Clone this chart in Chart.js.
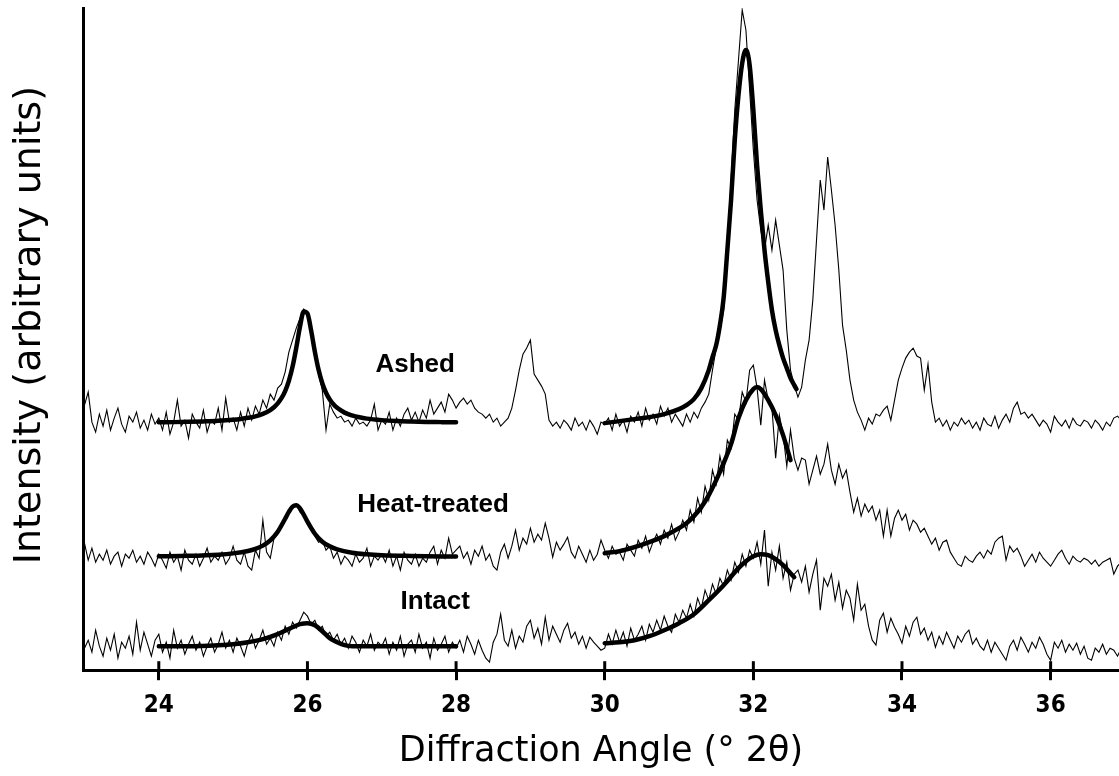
<!DOCTYPE html>
<html><head><meta charset="utf-8">
<script src="https://cdn.jsdelivr.net/npm/chart.js@4.4.0/dist/chart.umd.min.js"></script>
<style>html,body{margin:0;padding:0;background:#fff;} canvas{display:block;}</style>
</head><body>
<canvas id="c" width="1119" height="776"></canvas>
<script>
// sampling grid of the recorded traces (degrees 2θ)
const angleStart = 23.0;
const angleStep = 0.05;

// raw diffraction traces (arbitrary intensity units), one value per 0.05°
const ashedRaw = [
265,278,248,238,256,244,260,240,252,262,246,238,254,248,258,242,250,240,256,246,
252,240,258,236,248,270,244,250,232,256,248,242,260,238,250,246,262,240,272,248,
252,240,258,244,262,250,264,256,270,262,276,270,282,286,298,318,330,342,352,361,
356,340,318,296,280,240,266,258,252,254,248,250,244,252,246,248,244,250,266,240,
250,246,258,240,252,244,256,262,250,258,248,260,252,270,256,262,268,258,276,270,
262,268,272,266,270,262,258,256,252,256,248,252,244,248,252,262,280,300,316,322,
330,296,290,284,276,250,244,248,242,250,246,240,252,244,248,240,250,244,236,248,
246,252,240,256,244,250,238,254,248,258,244,262,250,256,246,264,254,262,248,256,
250,244,256,248,258,252,262,268,276,300,322,340,360,420,490,560,610,660,640,580,
520,470,440,420,445,420,450,425,400,340,300,285,273,283,310,330,370,430,490,460,
513,480,445,400,345,320,290,270,258,250,240,252,246,256,254,260,264,250,270,290,
302,312,318,322,314,312,280,306,268,248,252,244,250,240,248,244,252,246,250,242,
248,240,252,246,244,254,242,250,256,248,262,268,256,258,252,256,250,244,250,246,
238,254,248,244,250,242,252,246,244,250,248,242,250,246,240,248,244,252,254,250];

const heatRaw = [
127,110,122,108,116,110,120,106,114,118,104,116,112,120,108,114,106,118,112,104,
116,110,102,118,108,114,100,120,110,106,116,104,112,122,108,114,110,118,106,112,
124,110,106,118,104,100,120,112,150,118,112,132,136,146,152,160,165,166,158,154,
146,142,134,128,130,120,124,112,118,106,114,110,104,116,108,112,122,104,114,110,
116,108,120,104,114,100,118,110,106,116,104,112,108,118,124,106,120,112,132,116,
120,124,112,118,106,120,114,124,110,116,104,100,118,126,112,124,140,120,132,126,
142,128,136,130,147,132,113,128,120,126,133,118,112,124,116,108,120,110,116,130,
120,112,124,116,118,110,126,120,114,130,122,134,118,128,136,126,140,132,146,130,
138,150,140,160,148,172,158,184,170,200,186,214,196,230,222,256,250,278,268,300,
305,282,245,290,270,262,212,255,236,204,240,212,200,212,210,186,200,214,196,206,
226,200,186,206,192,200,178,158,172,154,166,158,164,150,160,134,160,134,152,160,
150,156,140,150,146,138,142,134,126,132,120,128,130,118,112,106,104,114,110,108,
114,118,112,120,116,128,132,134,110,124,118,122,114,104,110,116,108,118,112,108,
104,110,116,120,112,106,114,110,108,112,110,106,110,104,108,110,112,96,104,108];

const intactRaw = [
22,30,18,40,24,14,32,20,36,12,28,22,34,16,48,20,38,26,14,30,
36,18,28,12,40,22,30,16,26,34,20,28,14,24,32,18,26,38,22,30,
18,32,24,14,28,36,22,30,40,26,32,24,38,30,44,36,48,42,50,58,
54,46,50,40,44,34,38,30,36,26,32,22,34,28,18,30,24,36,20,28,
24,32,16,28,20,34,14,26,30,18,36,22,28,12,32,20,26,34,18,28,
22,30,18,34,26,16,30,20,12,8,28,36,56,30,24,40,22,34,28,44,
50,32,42,26,53,30,44,36,28,40,47,32,38,26,34,22,33,28,24,20,
22,36,26,40,28,38,24,42,30,36,44,30,46,38,50,40,54,44,38,56,
48,60,52,66,54,72,62,80,70,86,76,92,84,100,90,108,98,116,104,120,
112,128,106,140,84,118,100,124,92,108,80,96,100,88,104,78,96,110,60,92,
84,96,70,88,62,80,72,50,86,60,66,44,30,25,50,57,38,52,43,36,
27,44,34,48,53,36,42,30,38,23,34,26,38,30,22,34,28,36,40,26,
32,24,20,30,18,28,22,16,10,24,30,20,33,26,18,28,22,33,26,16,
10,28,22,30,18,26,20,27,16,24,12,10,22,18,26,16,22,20,14,22];

// fitted peak profiles
const ashedFit1Angle = [24.0,24.2,24.4,24.6,24.8,25.0,25.1,25.2,25.3,25.4,25.5,25.55,25.6,25.65,25.7,25.75,25.8,25.85,25.9,25.95,26.0,26.05,26.1,26.15,26.2,26.25,26.3,26.35,26.4,26.5,26.6,26.7,26.8,27.0,27.2,27.4,27.6,27.8,28.0];
const ashedFit1Value = [247.8,248.0,248.3,248.7,249.3,250.4,251.2,252.3,253.8,256.2,260.1,262.9,266.7,271.9,279.1,289.3,303.5,322.4,343.6,358.5,356.6,339.5,318.3,300.3,286.9,277.4,270.7,265.8,262.3,257.5,254.7,252.8,251.5,250.0,249.1,248.6,248.2,248.0,247.8];
const ashedFit2Angle = [30.0,30.2,30.4,30.6,30.8,31.0,31.1,31.2,31.3,31.4,31.45,31.5,31.55,31.6,31.65,31.7,31.75,31.8,31.85,31.9,31.95,32.0,32.05,32.1,32.15,32.2,32.25,32.3,32.35,32.4,32.45,32.5,32.55,32.58];
const ashedFit2Value = [247,249,251,253,256,261,265,271,282,300,313,325,345,372,420,470,530,575,607,620,605,560,505,460,420,388,360,340,325,312,302,292,285,281];
const heatFit1Angle = [24.0,24.4,24.8,25.0,25.2,25.3,25.4,25.5,25.6,25.7,25.75,25.8,25.85,25.9,25.95,26.0,26.1,26.2,26.3,26.4,26.6,26.8,27.0,27.4,27.8,28.0];
const heatFit1Value = [113.8,114.3,115.5,116.8,119.2,121.3,124.5,129.8,138.4,151.4,158.3,163.5,164.9,161.8,155.6,148.5,136.4,128.5,123.8,120.8,117.5,115.9,115.0,114.2,113.7,113.6];
const heatFit2Angle = [30.0,30.2,30.4,30.6,30.8,31.0,31.1,31.2,31.3,31.4,31.5,31.6,31.7,31.8,31.9,32.0,32.05,32.1,32.2,32.3,32.4,32.5];
const heatFit2Value = [117,119,123,128,134,142,147,154,163,175,190,207,226,252,270,281,283,281,270,255,235,210];
const intactFit1Angle = [24.0,24.4,24.8,25.0,25.2,25.4,25.6,25.8,25.9,26.0,26.1,26.2,26.3,26.4,26.5,26.6,26.8,27.0,27.4,27.8,28.0];
const intactFit1Value = [24,24,25,26,28,31,36,43,46,47,45,39,32,28,25,24,24,24,24,24,24];
const intactFit2Angle = [30.0,30.2,30.4,30.6,30.8,31.0,31.2,31.4,31.6,31.8,31.9,32.0,32.1,32.2,32.3,32.4,32.5,32.55];
const intactFit2Value = [27,28,30,34,40,47,56,70,85,102,109,114,116,115,111,105,97,93];

// axis ticks and trace labels
const xTickValues = [24,26,28,30,32,34,36];
const traceNames = ['Ashed','Heat-treated','Intact'];
const traceNameAngle = [27.45,27.69,27.72];
const traceNameValue = [305,165,68];
const yAxisTitle = 'Intensity (arbitrary units)';

function rawPoints(arr){ return arr.map((v,i)=>({x:+(angleStart+i*angleStep).toFixed(2), y:v})); }
function pairPoints(a,v){ return a.map((x,i)=>({x:x, y:v[i]})); }

const rawStyle = {borderColor:'#000', borderWidth:1.1, pointRadius:0, tension:0, fill:false, order:2};
const fitStyle = {borderColor:'#000', borderWidth:4.5, pointRadius:0, cubicInterpolationMode:'monotone', fill:false, order:1, borderCapStyle:'round', borderJoinStyle:'round'};

const decor = {
  id:'decor',
  afterDraw(chart){
    const {ctx, scales:{x,y}, chartArea} = chart;
    ctx.save();
    ctx.strokeStyle='#000'; ctx.lineWidth=3;
    xTickValues.forEach(v=>{
      const px = x.getPixelForValue(v);
      ctx.beginPath(); ctx.moveTo(px, chartArea.bottom); ctx.lineTo(px, chartArea.bottom-9); ctx.stroke();
    });
    ctx.fillStyle='#000';
    ctx.font='bold 26px "Liberation Sans", Arial, sans-serif';
    ctx.textAlign='center'; ctx.textBaseline='middle';
    traceNames.forEach((t,i)=>ctx.fillText(t, x.getPixelForValue(traceNameAngle[i]), y.getPixelForValue(traceNameValue[i])));
    // y-axis title, rotated, slightly above the centre of the axis as in the original
    ctx.font='38px "DejaVu Sans", sans-serif';
    ctx.translate(chartArea.left - 53, (chartArea.top + chartArea.bottom)/2 - 14);
    ctx.rotate(-Math.PI/2);
    ctx.fillText(yAxisTitle, 0, 0);
    ctx.restore();
  }
};

new Chart(document.getElementById('c'), {
  type:'line',
  data:{datasets:[
    Object.assign({label:'Ashed', data:rawPoints(ashedRaw)}, rawStyle),
    Object.assign({label:'Heat-treated', data:rawPoints(heatRaw)}, rawStyle),
    Object.assign({label:'Intact', data:rawPoints(intactRaw)}, rawStyle),
    Object.assign({label:'Ashed fit 1', data:pairPoints(ashedFit1Angle, ashedFit1Value)}, fitStyle),
    Object.assign({label:'Ashed fit 2', data:pairPoints(ashedFit2Angle, ashedFit2Value)}, fitStyle),
    Object.assign({label:'Heat fit 1', data:pairPoints(heatFit1Angle, heatFit1Value)}, fitStyle),
    Object.assign({label:'Heat fit 2', data:pairPoints(heatFit2Angle, heatFit2Value)}, fitStyle),
    Object.assign({label:'Intact fit 1', data:pairPoints(intactFit1Angle, intactFit1Value)}, fitStyle),
    Object.assign({label:'Intact fit 2', data:pairPoints(intactFit2Angle, intactFit2Value)}, fitStyle)
  ]},
  options:{
    responsive:false, animation:false, devicePixelRatio:1,
    layout:{padding:{left:83, top:8, right:0, bottom:7}},
    plugins:{legend:{display:false}, tooltip:{enabled:false}},
    scales:{
      x:{
        type:'linear', min:22.98, max:36.92,
        afterBuildTicks:s=>{ s.ticks = xTickValues.map(v=>({value:v})); },
        ticks:{color:'#000', padding:11, font:{family:'"Liberation Sans Narrow", "DejaVu Sans Condensed", "Liberation Sans", sans-serif', size:24, weight:'bold'}},
        grid:{display:true, drawOnChartArea:false, drawTicks:true, tickLength:10, lineWidth:3, color:'#000'},
        border:{display:true, color:'#000', width:3},
        title:{display:true, text:'Diffraction Angle (° 2θ)', color:'#000', font:{family:'"DejaVu Sans", sans-serif', size:35, lineHeight:1.0}, padding:{top:3, bottom:0}}
      },
      y:{
        min:0, max:662,
        ticks:{display:false},
        grid:{display:false, drawTicks:false},
        border:{display:true, color:'#000', width:3},
        title:{display:false}
      }
    }
  },
  plugins:[decor]
});
</script>
</body></html>
